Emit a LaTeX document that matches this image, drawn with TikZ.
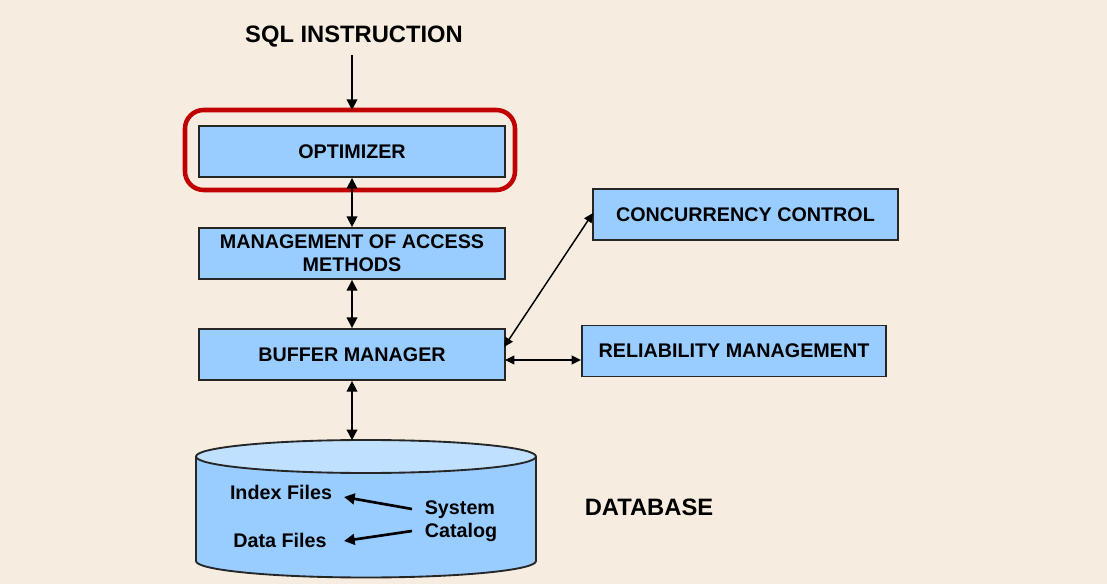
\documentclass[tikz,border=0pt]{standalone}
\usepackage{fontspec}
\setmainfont{Liberation Sans}
\usetikzlibrary{arrows.meta}
\definecolor{bgcol}{RGB}{246,237,224}
\definecolor{boxblue}{RGB}{153,204,255}
\definecolor{topblue}{RGB}{192,224,255}
\definecolor{hired}{RGB}{192,0,0}
\tikzset{
  box/.style={draw=black!85, line width=1.4pt, fill=boxblue, minimum width=229.5pt, minimum height=38.25pt, inner sep=0pt, align=center, font=\fontsize{14.8}{17.3}\selectfont\bfseries},
  lab/.style={inner sep=0pt, align=left, font=\fontsize{14.8}{17.3}\selectfont\bfseries},
  title/.style={inner sep=0pt, font=\fontsize{17.8}{20}\selectfont\bfseries},
  link/.style={line width=1.2pt, {Triangle[length=8pt,width=8pt]}-{Triangle[length=8pt,width=8pt]}},
  slink/.style={line width=1.1pt, {Triangle[length=7pt,width=6.5pt]}-{Triangle[length=7pt,width=6.5pt]}},
  oneway/.style={line width=1.2pt, -{Triangle[length=8pt,width=8pt]}},
  catlink/.style={line width=2pt, -{Triangle[length=8pt,width=8pt]}}
}
\begin{document}
\begin{tikzpicture}[x=0.75pt,y=-0.75pt]
\fill[bgcol] (0,0) rectangle (1107,584);
\useasboundingbox (0,0) rectangle (1107,584);
% title
\node[title] (sql) at (354,36.5) {SQL INSTRUCTION};
% highlight
\draw[hired, line width=3.4pt, rounded corners=14pt] (185,110) rectangle (515,190);
% boxes
\node[box] (opt) at (352,151.5) {OPTIMIZER};
\node[box] (acc) at (352,253.5) {MANAGEMENT OF ACCESS\\METHODS};
\node[box] (buf) at (352,354.5) {BUFFER MANAGER};
\node[box, minimum width=228.75pt] (conc) at (745.5,214.5) {CONCURRENCY CONTROL};
\node[box, minimum width=228pt] (rel) at (734,351) {RELIABILITY MANAGEMENT};
% cylinder
\fill[boxblue] (196,456.5) -- (196,561) arc[start angle=180, end angle=0, x radius=170, y radius=16.5] -- (536,456.5) -- cycle;
\draw[black!85, line width=1.4pt] (196,456.5) -- (196,561) arc[start angle=180, end angle=0, x radius=170, y radius=16.5] -- (536,456.5);
\draw[black!85, line width=1.4pt, fill=topblue] (366,456.5) ellipse[x radius=170, y radius=16.5];
\coordinate (dbtop) at (352,440.2);
\node[title] (dbl) at (649,507) {DATABASE};
\node[lab] (idx) at (281,492) {Index Files};
\node[lab] (dat) at (280,540) {Data Files};
\node[lab] (cat) at (461,521) {System\\Catalog};
% connector anchors
\coordinate (sqlbot) at (352,55);
\coordinate (optin) at (352,110);
\coordinate (b1) at (504,347);
\coordinate (b2) at (505,360);
\coordinate (c1) at (593,213);
\coordinate (cat1) at (412,509);
\coordinate (cat2) at (412,531);
\coordinate (idxr) at (344,497);
\coordinate (datr) at (344,541);
% connectors
\draw[oneway] (sqlbot) -- (optin);
\draw[link] (opt.south) -- (acc.north);
\draw[link] (acc.south) -- (buf.north);
\draw[link] (buf.south) -- (dbtop);
\draw[slink] (b1) -- (c1);
\draw[slink] (b2) -- (rel.west |- b2);
\draw[catlink] (cat1) -- (idxr);
\draw[catlink] (cat2) -- (datr);
\end{tikzpicture}
\end{document}
